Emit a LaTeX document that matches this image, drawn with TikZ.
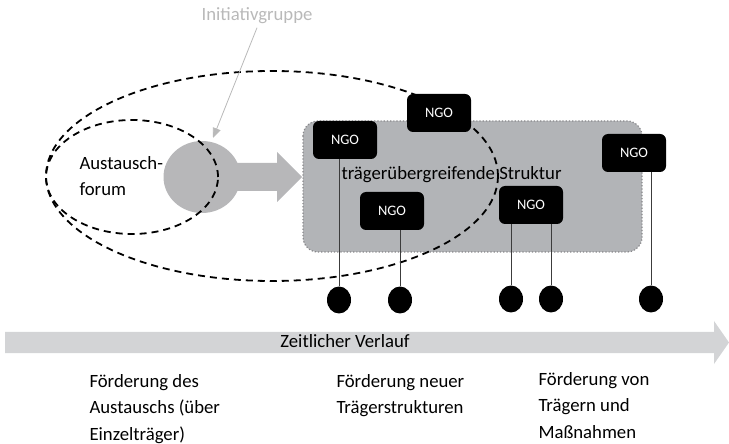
\documentclass[tikz,border=0pt]{standalone}
\usepackage{fontspec}
\setmainfont{Carlito}
\usetikzlibrary{
    shapes, shapes.geometric,
    arrows.meta, positioning, calc
}
\definecolor{colStruktur}{RGB}{178, 180, 183}
\definecolor{colRand}{RGB}{135, 135, 138}
\definecolor{colKreis}{RGB}{183, 183, 185}
\definecolor{colZeit}{RGB}{211, 212, 214}
\definecolor{colInit}{RGB}{185, 185, 185}
\definecolor{colStiel}{RGB}{60, 60, 60}

\begin{document}
\begin{tikzpicture}[x=1bp, y=-1bp,
    every node/.style={font=\fontsize{18.8}{26.5}\selectfont},
    ngo/.style={fill=black, text=white, rounded corners=6bp,
        minimum width=64bp, minimum height=38bp, inner sep=0pt,
        font=\fontsize{14.5}{16}\selectfont},
    punkt/.style={ellipse, fill=black, minimum width=24bp,
        minimum height=27bp, inner sep=0pt},
    stiel/.style={colStiel, line width=0.8bp},
    gestrichelt/.style={dash pattern=on 7bp off 5bp, line width=1.8bp}]
    \useasboundingbox (0, 0) rectangle (729, 444);

    % --- Traegeruebergreifende Struktur (Hintergrund) ---
    \draw[fill=colStruktur, draw=colRand, dotted, line width=1.2bp,
        rounded corners=15bp] (303, 121) rectangle (642, 252);

    % --- Initiativgruppe: Kreis und Pfeil ---
    \node[ellipse, fill=colKreis, minimum width=77bp, minimum height=72bp,
        inner sep=0pt] (kreis) at (202, 177) {};
    \fill[colKreis] (230, 163) -- (277, 163) -- (277, 152) -- (302, 177)
        -- (277, 202) -- (277, 191) -- (230, 191) -- cycle;

    % --- Gestrichelte Ellipsen ---
    \draw[gestrichelt] (132, 177) ellipse [x radius=86bp, y radius=57bp];
    \draw[gestrichelt] (272, 176) ellipse [x radius=226bp, y radius=105bp];

    \node[anchor=base west] (strukturtext) at (338, 180) {trägerübergreifende Struktur};
    % base = Grundlinie der letzten Zeile
    \node[anchor=base west, align=left] (forum) at (76, 195.5) {Austausch-\\forum};

    % Beschriftung Initiativgruppe
    \node[anchor=base, text=colInit] (init) at (257, 21) {Initiativgruppe};
    \coordinate (initziel) at (213, 138);
    \draw[colInit, line width=0.8bp, -{Triangle[length=10bp, width=8bp]}]
        (init.south) -- (initziel);

    % --- Punkte ---
    \node[punkt] (dotA) at (339, 300) {};
    \node[punkt] (dotB) at (400, 300) {};
    \node[punkt] (dotC) at (511, 299) {};
    \node[punkt] (dotD) at (551, 299) {};
    \node[punkt] (dotE) at (651, 299) {};

    % --- NGOs ---
    \node[ngo] (ngoA) at (345, 140) {NGO};
    \node[ngo] (ngoB) at (439, 113) {NGO};
    \node[ngo] (ngoC) at (392, 211) {NGO};
    \node[ngo] (ngoD) at (531, 205) {NGO};
    \node[ngo] (ngoE) at (634, 153) {NGO};

    % Verbindungen NGO -> Punkt
    \draw[stiel] (ngoA.south -| dotA) -- (dotA.north);
    \draw[stiel] (ngoC.south -| dotB) -- (dotB.north);
    \draw[stiel] (ngoD.south -| dotC) -- (dotC.north);
    \draw[stiel] (ngoD.south -| dotD) -- (dotD.north);
    \draw[stiel] (ngoE.south -| dotE) -- (dotE.north);

    % --- Zeitlicher Verlauf ---
    \fill[colZeit] (5, 332) -- (714, 332) -- (714, 321) -- (729, 342.5)
        -- (714, 364) -- (714, 353) -- (5, 353) -- cycle;
    \node[anchor=base] (zeit) at (345, 348) {Zeitlicher Verlauf};

    % --- Phasen ---
    \node[anchor=base west, align=left] (phaseA) at (86, 440)
        {Förderung des\\Austauschs (über\\Einzelträger)};
    \node[anchor=base west, align=left] (phaseB) at (333, 413.5)
        {Förderung neuer\\Trägerstrukturen};
    \node[anchor=base west, align=left] (phaseC) at (535, 438)
        {Förderung von\\Trägern und\\Maßnahmen};

\end{tikzpicture}
\end{document}
